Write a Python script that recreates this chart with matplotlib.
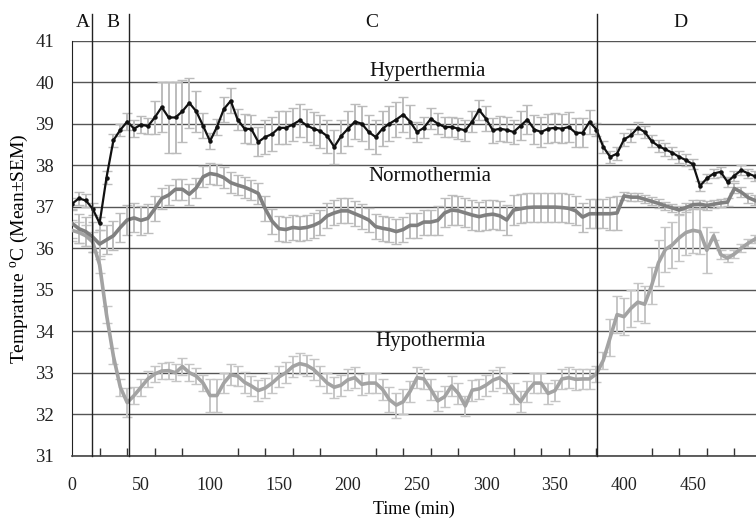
import matplotlib
matplotlib.use("Agg")
import matplotlib.pyplot as plt
import numpy as np
from matplotlib.ticker import MultipleLocator

plt.rcParams['font.family'] = ['Liberation Serif', 'DejaVu Serif']
plt.rcParams['mathtext.fontset'] = 'custom'
plt.rcParams['mathtext.rm'] = 'Liberation Serif'

time_min = list(range(0, 500, 5))

hyper_mean = [37.07, 37.2, 37.15, 36.95, 36.6, 37.7, 38.6, 38.85, 39.05, 38.88,
              38.98, 38.94, 39.15, 39.4, 39.15, 39.15, 39.3, 39.5, 39.3, 38.95,
              38.58, 38.92, 39.35, 39.55, 39.1, 38.88, 38.87, 38.56, 38.68, 38.75,
              38.9, 38.9, 38.98, 39.08, 38.96, 38.88, 38.82, 38.7, 38.44, 38.7,
              38.88, 39.05, 39.0, 38.8, 38.68, 38.88, 39.0, 39.1, 39.22, 39.05,
              38.8, 38.9, 39.12, 39.0, 38.92, 38.92, 38.88, 38.84, 39.05, 39.33,
              39.12, 38.84, 38.88, 38.85, 38.8, 38.95, 39.1, 38.86, 38.8, 38.88,
              38.9, 38.88, 38.92, 38.78, 38.78, 39.04, 38.86, 38.44, 38.2, 38.28,
              38.62, 38.72, 38.9, 38.8, 38.58, 38.46, 38.38, 38.3, 38.2, 38.12,
              38.02, 37.5, 37.68, 37.8, 37.84, 37.6, 37.75, 37.88, 37.8, 37.73]
hyper_sem = [0.15, 0.15, 0.15, 0.15, 0.15, 0.15, 0.15, 0.15, 0.2, 0.2,
             0.2, 0.2, 0.4, 0.6, 0.85, 0.85, 0.75, 0.6, 0.5, 0.3,
             0.2, 0.2, 0.3, 0.3, 0.25, 0.35, 0.35, 0.35, 0.4, 0.4,
             0.4, 0.4, 0.4, 0.4, 0.4, 0.4, 0.4, 0.4, 0.4, 0.4,
             0.42, 0.42, 0.42, 0.42, 0.42, 0.42, 0.42, 0.42, 0.42, 0.4,
             0.25, 0.25, 0.25, 0.25, 0.25, 0.25, 0.25, 0.25, 0.25, 0.25,
             0.3, 0.3, 0.3, 0.3, 0.3, 0.35, 0.35, 0.35, 0.35, 0.35,
             0.35, 0.35, 0.35, 0.35, 0.35, 0.3, 0.15, 0.15, 0.15, 0.15,
             0.15, 0.15, 0.15, 0.15, 0.15, 0.15, 0.15, 0.15, 0.15, 0.15,
             0.12, 0.12, 0.12, 0.12, 0.12, 0.12, 0.12, 0.12, 0.12, 0.12]

normo_mean = [36.6, 36.47, 36.4, 36.27, 36.1, 36.2, 36.3, 36.5, 36.68, 36.73,
              36.67, 36.72, 36.95, 37.2, 37.28, 37.42, 37.42, 37.3, 37.45, 37.72,
              37.8, 37.77, 37.7, 37.58, 37.52, 37.47, 37.4, 37.32, 36.95, 36.65,
              36.47, 36.45, 36.5, 36.48, 36.5, 36.55, 36.63, 36.78, 36.85, 36.9,
              36.9, 36.83, 36.76, 36.68, 36.52, 36.48, 36.45, 36.4, 36.45, 36.55,
              36.55, 36.63, 36.63, 36.67, 36.85, 36.92, 36.9, 36.85, 36.8, 36.76,
              36.8, 36.82, 36.78, 36.68, 36.92, 36.95, 36.98, 36.99, 36.99, 36.99,
              36.99, 36.98, 36.96, 36.9, 36.75, 36.83, 36.83, 36.83, 36.83, 36.85,
              37.26, 37.23, 37.23, 37.18, 37.13, 37.08, 37.02, 36.97, 36.92, 36.98,
              37.05, 37.06, 37.03, 37.06, 37.09, 37.11, 37.44, 37.35, 37.22, 37.15]
normo_sem = [0.35, 0.35, 0.35, 0.35, 0.35, 0.35, 0.35, 0.35, 0.35, 0.35,
             0.35, 0.35, 0.3, 0.25, 0.25, 0.25, 0.25, 0.25, 0.25, 0.25,
             0.25, 0.25, 0.25, 0.25, 0.25, 0.25, 0.25, 0.25, 0.3, 0.3,
             0.3, 0.3, 0.3, 0.3, 0.3, 0.3, 0.3, 0.3, 0.3, 0.3,
             0.3, 0.3, 0.3, 0.3, 0.3, 0.3, 0.3, 0.3, 0.3, 0.3,
             0.3, 0.3, 0.3, 0.35, 0.35, 0.35, 0.35, 0.35, 0.35, 0.35,
             0.35, 0.35, 0.35, 0.35, 0.35, 0.35, 0.35, 0.35, 0.35, 0.35,
             0.35, 0.35, 0.35, 0.35, 0.35, 0.35, 0.35, 0.35, 0.4, 0.4,
             0.1, 0.1, 0.1, 0.1, 0.1, 0.1, 0.1, 0.1, 0.1, 0.1,
             0.1, 0.1, 0.1, 0.1, 0.1, 0.1, 0.12, 0.12, 0.12, 0.12]

hypo_mean = [36.43, 36.38, 36.3, 36.15, 35.6, 34.4, 33.4, 32.65, 32.28, 32.45,
             32.65, 32.85, 32.97, 33.04, 33.05, 33.0, 33.15, 33.0, 32.92, 32.75,
             32.45, 32.45, 32.75, 32.95, 32.92, 32.77, 32.68, 32.57, 32.63, 32.75,
             32.9, 33.0, 33.15, 33.22, 33.18, 33.08, 32.92, 32.75, 32.65, 32.7,
             32.83, 32.88, 32.72, 32.75, 32.75, 32.6, 32.35, 32.22, 32.3, 32.55,
             32.88, 32.85, 32.6, 32.32, 32.42, 32.68, 32.5, 32.2, 32.58, 32.61,
             32.7, 32.82, 32.88, 32.75, 32.5, 32.3, 32.55, 32.75, 32.75, 32.5,
             32.57, 32.85, 32.88, 32.84, 32.85, 32.85, 32.97, 33.3, 33.85, 34.4,
             34.35, 34.55, 34.7, 34.65, 35.1, 35.65, 35.97, 36.08, 36.25, 36.38,
             36.43, 36.4, 35.95, 36.3, 35.85, 35.76, 35.86, 36.0, 36.12, 36.22]
hypo_sem = [0.25, 0.25, 0.25, 0.25, 0.2, 0.2, 0.2, 0.2, 0.35, 0.2,
            0.2, 0.2, 0.2, 0.2, 0.2, 0.2, 0.2, 0.2, 0.2, 0.2,
            0.4, 0.4, 0.25, 0.25, 0.25, 0.25, 0.25, 0.25, 0.25, 0.25,
            0.25, 0.25, 0.25, 0.25, 0.25, 0.25, 0.25, 0.25, 0.25, 0.25,
            0.25, 0.25, 0.25, 0.25, 0.25, 0.25, 0.3, 0.3, 0.3, 0.25,
            0.25, 0.25, 0.25, 0.25, 0.25, 0.25, 0.25, 0.25, 0.25, 0.25,
            0.25, 0.25, 0.25, 0.25, 0.25, 0.25, 0.25, 0.25, 0.25, 0.25,
            0.25, 0.25, 0.25, 0.25, 0.25, 0.25, 0.2, 0.2, 0.45, 0.45,
            0.45, 0.45, 0.45, 0.45, 0.45, 0.55, 0.55, 0.55, 0.55, 0.55,
            0.55, 0.55, 0.55, 0.1, 0.1, 0.1, 0.1, 0.1, 0.1, 0.1]

phase_bounds = [14.2, 41.5, 380.7]
phase_labels = ['A', 'B', 'C', 'D']
phase_label_x = [8.2, 29.7, 217, 441]
group_labels = ['Hyperthermia', 'Normothermia', 'Hypothermia']
group_label_pos = [(258, 40.25), (259, 37.72), (260, 33.75)]

W, H = 756, 521
fig = plt.figure(figsize=(W / 100, H / 100), dpi=100)
ax = fig.add_axes([72 / W, (H - 455.7) / H, (W - 72) / W, (455.7 - 40.7) / H])

t = np.array(time_min)
series = [
    (hypo_mean, hypo_sem, '#a3a3a3', '#c6c6c6', None),
    (normo_mean, normo_sem, '#808080', '#bdbdbd', None),
    (hyper_mean, hyper_sem, '#111111', '#bcbcbc', 'o'),
]
for mean, sem, lc, ec, mk in series:
    ax.errorbar(t, mean, yerr=sem, fmt='none', ecolor=ec, elinewidth=1.4,
                capsize=3.5, capthick=1.0, zorder=2)
for mean, sem, lc, ec, mk in series:
    ax.plot(t, mean, color=lc, lw=2.6 if mk is None else 1.6,
            marker=mk, markersize=2.2, zorder=3)

ax.set_xlim(0, (W - 72) / 1.38)
ax.set_ylim(31, 41)
ax.set_yticks(range(31, 42))
ax.yaxis.grid(True, color='#555555', lw=1.0)
ax.set_axisbelow(True)
ax.xaxis.set_major_locator(MultipleLocator(50))
ax.xaxis.set_minor_locator(MultipleLocator(20))
ax.tick_params(axis='x', which='major', length=0, pad=15, labelsize=13, labelcolor='#222222')
ax.tick_params(axis='x', which='minor', direction='in', length=6, width=1, color='#333333')
ax.tick_params(axis='y', length=0, pad=13, labelsize=13.5, labelcolor='#222222')
for s in ['top', 'right']:
    ax.spines[s].set_visible(False)
ax.spines['left'].set_color('#222222')
ax.spines['bottom'].set_color('#444444')
ax.spines['bottom'].set_linewidth(1.2)

for xb in phase_bounds:
    ax.plot([xb, xb], [31, 41.65], color='#222222', lw=1.0, clip_on=False, zorder=4)
for lab, xl in zip(phase_labels, phase_label_x):
    ax.text(xl, 41.44, lab, ha='center', va='center', fontsize=14, color='#111111')
for lab, (xl, yl) in zip(group_labels, group_label_pos):
    ax.text(xl, yl, lab, ha='center', va='center', fontsize=15, color='#111111', zorder=5)

ax.set_xlabel('Time (min)', fontsize=13, labelpad=5)
ax.set_ylabel('Temprature $^{\\mathrm{o}}$C (Mean±SEM)', fontsize=14, labelpad=3)

fig.savefig('out.png', dpi=100)
